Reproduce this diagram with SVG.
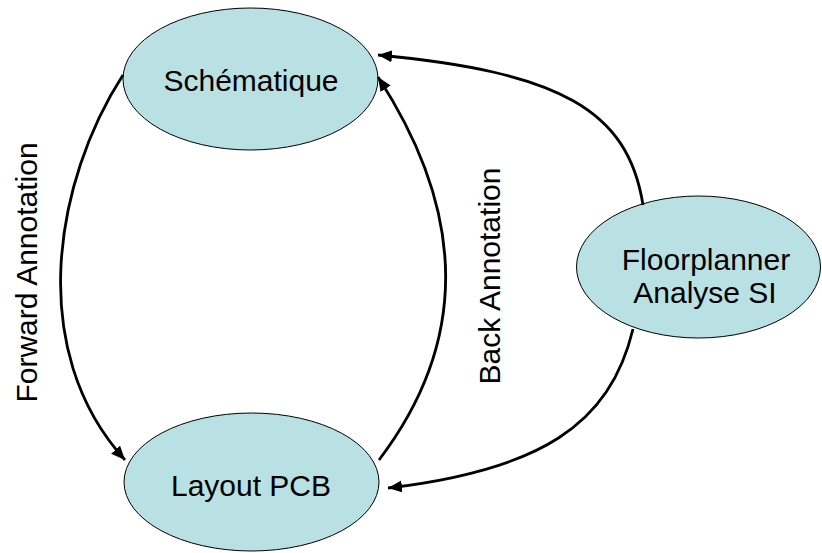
<svg xmlns="http://www.w3.org/2000/svg" width="822" height="553" viewBox="0 0 822 553">
<style>
.node{fill:#b9e0e3;stroke:#000;stroke-width:1}
.lbl{font-family:"Liberation Sans",Arial,sans-serif;font-size:30px;fill:#000;text-anchor:middle}
.edge{fill:none;stroke:#000;stroke-width:2.8}
</style>
<defs>
<marker id="ah" markerUnits="userSpaceOnUse" markerWidth="16" markerHeight="12" refX="14" refY="6" orient="auto" viewBox="0 0 16 12">
<path d="M0,0 L14,6 L0,12 z" fill="#000"/>
</marker>
</defs>
<rect width="822" height="553" fill="#fff"/>
<g id="n-schematique">
<ellipse class="node" cx="250.5" cy="79" rx="127.5" ry="71"/>
<text class="lbl" x="251" y="91">Schématique</text>
</g>
<g id="n-layout">
<ellipse class="node" cx="251.5" cy="482" rx="127.5" ry="69"/>
<text class="lbl" x="251" y="496">Layout PCB</text>
</g>
<g id="n-floorplanner">
<ellipse class="node" cx="698.5" cy="267" rx="122" ry="71"/>
<text class="lbl" x="706" y="270">Floorplanner</text>
<text class="lbl" x="705" y="303">Analyse SI</text>
</g>
<g id="connectors">
<path class="edge" d="M123,75 C55,180 25,350 125,460" marker-end="url(#ah)"/>
<path class="edge" d="M379,460 C478,330 458,200 378,77" marker-end="url(#ah)"/>
<path class="edge" d="M643,205 C628,110 560,72 378,55" marker-end="url(#ah)"/>
<path class="edge" d="M633,329 C610,425 540,470 388,488" marker-end="url(#ah)"/>
</g>
<g id="labels">
<text class="lbl" transform="translate(37,272.5) rotate(-90)">Forward Annotation</text>
<text class="lbl" transform="translate(500,276) rotate(-90)">Back Annotation</text>
</g>
</svg>
